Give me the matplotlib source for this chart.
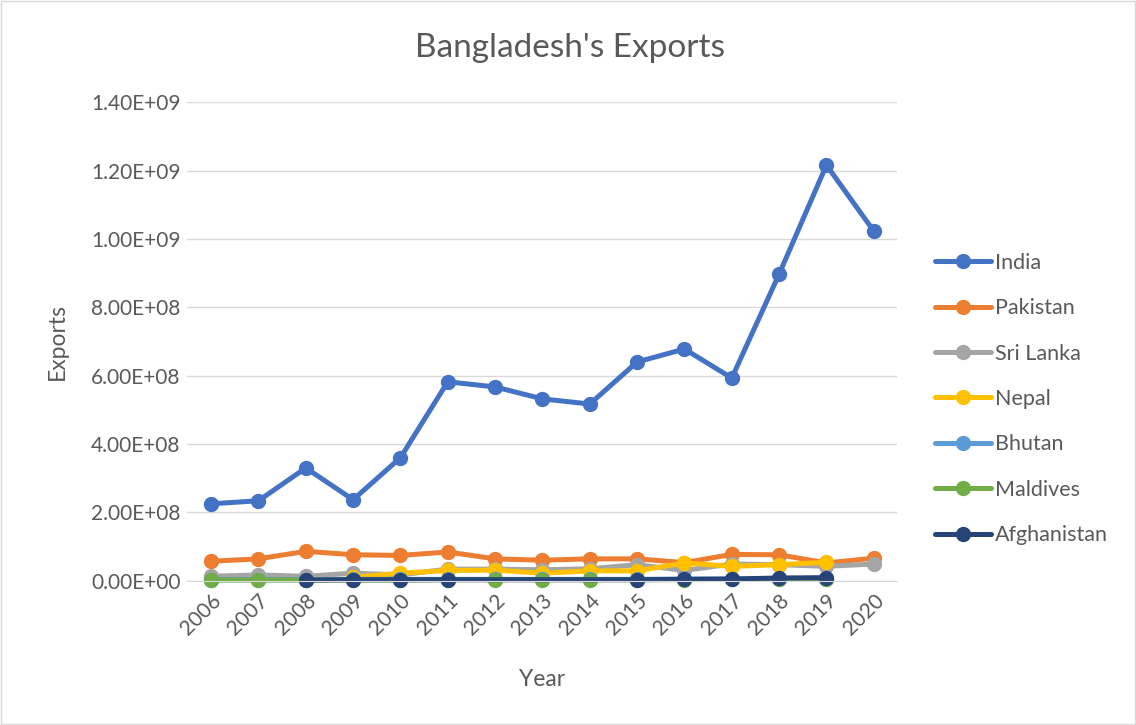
import matplotlib
matplotlib.use("Agg")
import matplotlib.pyplot as plt
from matplotlib.patches import Rectangle
from matplotlib.ticker import FuncFormatter, MultipleLocator

plt.rcParams["font.family"] = ["Lato", "DejaVu Sans"]

years = list(range(2006, 2021))

# export values in billions of USD (None = no data that year)
india = [0.225, 0.234, 0.330, 0.237, 0.360, 0.582, 0.567, 0.532, 0.517, 0.640,
         0.678, 0.593, 0.897, 1.216, 1.023]
pakistan = [0.057, 0.064, 0.086, 0.076, 0.074, 0.084, 0.064, 0.060, 0.064, 0.064,
            0.053, 0.077, 0.076, 0.052, 0.066]
sri_lanka = [0.013, 0.017, 0.013, 0.022, 0.017, 0.034, 0.034, 0.032, 0.035, 0.047,
             0.030, 0.049, 0.047, 0.042, 0.049]
nepal = [None, None, None, 0.010, 0.022, 0.030, 0.031, 0.022, 0.029, 0.029,
         0.052, 0.042, 0.047, 0.054, None]
bhutan = [0.003, 0.003, 0.003, 0.004, 0.004, 0.004, 0.004, 0.004, 0.004, 0.004,
          0.005, 0.005, 0.005, 0.005, None]
maldives = [0.002, 0.002, 0.002, 0.002, 0.002, 0.003, 0.003, 0.003, 0.003, 0.003,
            0.003, 0.004, 0.004, 0.004, None]
afghanistan = [None, None, 0.002, 0.003, 0.003, 0.003, None, None, None, 0.003,
               0.004, 0.005, 0.008, 0.009, None]

series = [
    ("India", india, "#4472C4"),
    ("Pakistan", pakistan, "#ED7D31"),
    ("Sri Lanka", sri_lanka, "#A5A5A5"),
    ("Nepal", nepal, "#FFC000"),
    ("Bhutan", bhutan, "#5B9BD5"),
    ("Maldives", maldives, "#70AD47"),
    ("Afghanistan", afghanistan, "#264478"),
]

TEXT = "#595959"
GRID = "#D9D9D9"

fig = plt.figure(figsize=(11.36, 7.25), dpi=100)
ax = fig.add_axes([0.165, 0.199, 0.625, 0.660])

xs = list(range(len(years)))
for name, vals, color in series:
    px = [x for x, v in zip(xs, vals) if v is not None]
    py = [v * 1e9 for v in vals if v is not None]
    ax.plot(px, py, color=color, lw=3.6, marker="o", ms=10,
            solid_capstyle="round", label=name, clip_on=False)

ax.set_xlim(-0.5, len(years) - 0.5)
ax.set_ylim(0, 1.4e9)
ax.yaxis.set_major_locator(MultipleLocator(2e8))
ax.yaxis.set_major_formatter(FuncFormatter(lambda v, _: f"{v:.2E}"))
ax.set_xticks(xs)
ax.set_xticklabels([str(y) for y in years], rotation=45, ha="right",
                   rotation_mode="anchor")

ax.grid(axis="y", color=GRID, lw=1)
ax.set_axisbelow(True)
for s in ("top", "right", "left"):
    ax.spines[s].set_visible(False)
ax.spines["bottom"].set_color(GRID)
ax.tick_params(length=0, colors=TEXT, labelsize=15)
ax.tick_params(axis="x", pad=7)
ax.tick_params(axis="y", pad=5)

ax.set_xlabel("Year", color=TEXT, fontsize=16.5, labelpad=22)
ax.set_ylabel("Exports", color=TEXT, fontsize=16.5, labelpad=17)
fig.text(0.502, 0.934, "Bangladesh's Exports", ha="center", va="center",
         color=TEXT, fontsize=24)

leg = fig.legend(*ax.get_legend_handles_labels(), loc="center left",
                 bbox_to_anchor=(935 / 1136, 1 - 399 / 725), frameon=False,
                 fontsize=15.5, labelcolor=TEXT, handlelength=2.6,
                 handletextpad=0.2, labelspacing=1.18, borderpad=0,
                 borderaxespad=0)

# thin frame round the chart area
fig.add_artist(Rectangle((0.001, 0.001), 0.998, 0.998, transform=fig.transFigure,
                         fill=False, edgecolor="#D9D9D9", lw=1))

fig.savefig("out.png", dpi=100, facecolor="white")
